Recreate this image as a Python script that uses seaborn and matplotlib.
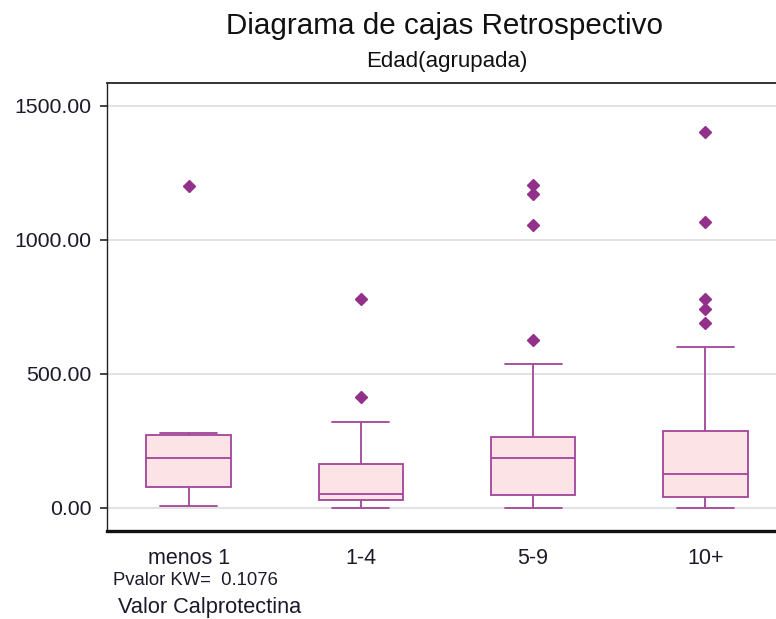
import matplotlib
matplotlib.use("Agg")
import matplotlib.pyplot as plt
import seaborn as sns
import pandas as pd
from matplotlib.ticker import FormatStrFormatter

categorias = ["menos 1", "1-4", "5-9", "10+"]
menos_1 = [5, 77, 77, 185, 185, 271, 271, 277, 1200]
g_1_4 = [0, 29, 29, 29, 50, 50, 50, 163, 163, 163, 321, 412, 777]
g_5_9 = [0, 48, 48, 48, 48, 48, 185, 185, 185, 185, 185,
         264, 264, 264, 264, 264, 536, 627, 1056, 1169, 1206]
g_10_mas = [0, 41, 41, 41, 41, 41, 41, 127, 127, 127, 127, 127, 127,
            285, 285, 285, 285, 285, 285, 600, 691, 741, 777, 1065, 1401]
y_ticks = [0, 500, 1000, 1500]

grupos = [menos_1, g_1_4, g_5_9, g_10_mas]
df = pd.DataFrame({
    "Edad": [c for c, g in zip(categorias, grupos) for _ in g],
    "Valor": [v for g in grupos for v in g],
})

sns.set_theme(style="white")
plt.rcParams["font.family"] = ["Liberation Sans", "DejaVu Sans"]

fig = plt.figure(figsize=(7.76, 6.19), dpi=100)
ax = fig.add_axes([106.5 / 776, 1 - 531 / 619, 1 - 106.5 / 776, (531 - 83) / 619])

edge = "#A3449A"
fill = "#FCE4E6"
flier = "#93308A"

ax.yaxis.grid(True, color="#e2e2e2", linewidth=1.4, zorder=0)
ax.set_axisbelow(True)

sns.boxplot(data=df, x="Edad", y="Valor", order=categorias, ax=ax,
            color=fill, saturation=1, linecolor=edge, linewidth=1.3,
            width=0.49, whis=1.5, capwidths=0.33,
            flierprops=dict(marker="D", markerfacecolor=flier,
                            markeredgecolor=flier, markersize=6.5))

ax.set_xlim(-0.477, 3.41)
ax.set_ylim(-87, 1585)
ax.set_yticks(y_ticks)
ax.yaxis.set_major_formatter(FormatStrFormatter("%.2f"))
ax.set_xlabel("")
ax.set_ylabel("")

ax.tick_params(axis="y", which="major", length=5, width=1.2, color="#222222",
               pad=6, labelsize=15.3, labelcolor="#1a1a2a", left=True)
ax.tick_params(axis="x", which="major", length=0, pad=12, labelsize=15.5,
               labelcolor="#1a1a2a", bottom=True)

ax.spines["right"].set_visible(False)
ax.spines["left"].set_color("#222222")
ax.spines["left"].set_linewidth(1.0)
ax.spines["top"].set_color("#333333")
ax.spines["top"].set_linewidth(1.4)
ax.spines["bottom"].set_color("#111111")
ax.spines["bottom"].set_linewidth(2.4)

fig.text(444 / 776, 1 - 34 / 619, "Diagrama de cajas Retrospectivo",
         ha="center", va="baseline", fontsize=21.3, color="#111111")
fig.text(447 / 776, 1 - 67 / 619, "Edad(agrupada)",
         ha="center", va="baseline", fontsize=16, color="#111111")
fig.text(113 / 776, 1 - 585 / 619, "Pvalor KW=  0.1076",
         ha="left", va="baseline", fontsize=13.3, color="#1a1a2a")
fig.text(118 / 776, 1 - 613 / 619, "Valor Calprotectina",
         ha="left", va="baseline", fontsize=15.7, color="#1a1a2a")

fig.savefig("out.png", dpi=100)
